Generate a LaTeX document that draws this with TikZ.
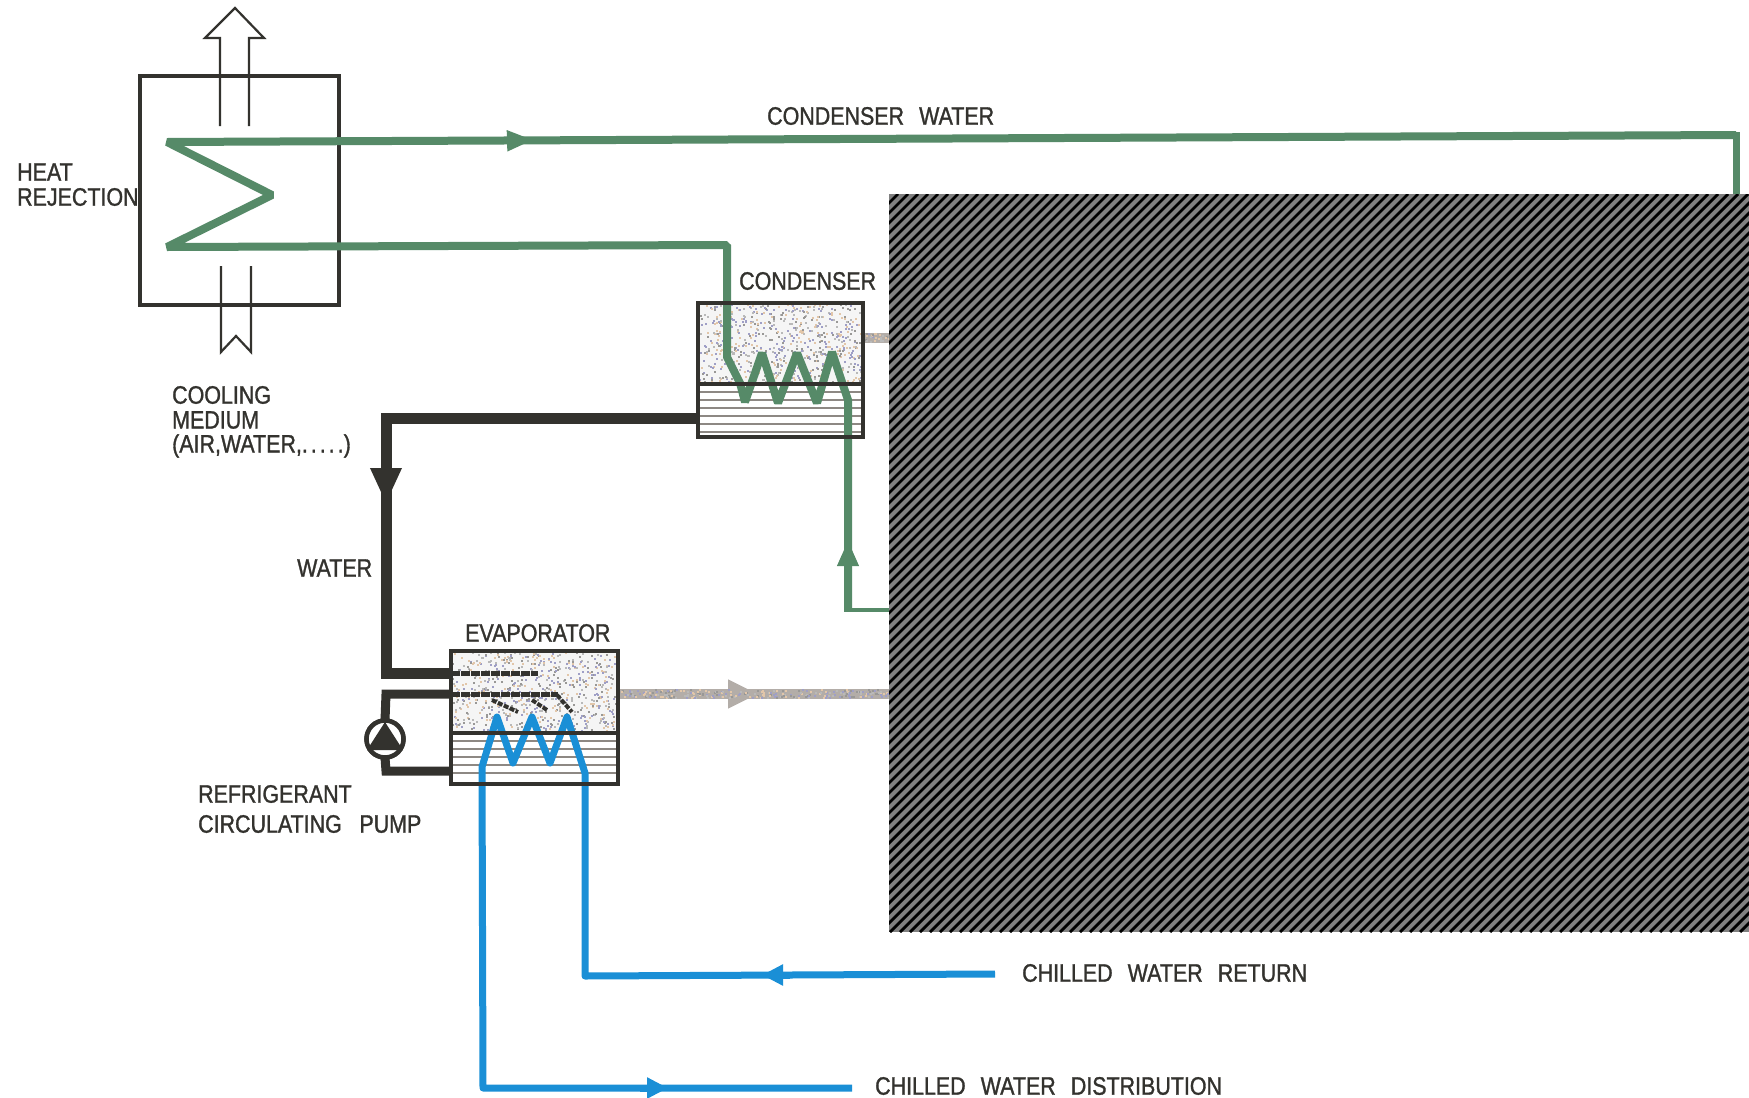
\documentclass[tikz,border=0pt]{standalone}
\usepackage{fontspec}
\setmainfont[FakeStretch=0.85,FakeBold=1.2]{Liberation Sans}
\usetikzlibrary{arrows.meta}
\definecolor{pipegreen}{HTML}{568A68}
\definecolor{pipeblue}{HTML}{1A8FD6}
\definecolor{ink}{HTML}{33322E}
\definecolor{noisegray}{HTML}{B3ADA8}
\definecolor{hatchgray}{HTML}{808080}
% #1 x, #2 y, #3 width, #4 height, #5 number of specks
\newcommand{\stipple}[5]{%
  \foreach \k in {1,...,#5}{%
    \pgfmathsetmacro{\sx}{#1+rnd*(#3)}%
    \pgfmathsetmacro{\sy}{#2+rnd*(#4)}%
    \pgfmathtruncatemacro{\sc}{int(rnd*4)}%
    \ifcase\sc\def\scol{gray!55}\or\def\scol{brown!45}\or\def\scol{ink!50}\else\def\scol{blue!25!gray!60}\fi
    \fill[\scol] (\sx,\sy) rectangle ++(2,2);
  }}
\tikzset{
  x=1pt,y=-1pt,
  lbl/.style={inner sep=0pt,anchor=west,font=\fontsize{25.2}{25.2}\selectfont,text=ink},
  vessel/.style={draw=ink,line width=4.5pt,inner sep=0pt,outer sep=0pt,anchor=north west},
  frame/.style={draw=ink,line width=3.5pt,inner sep=0pt,outer sep=0pt,anchor=north west},
  greenpipe/.style={draw=pipegreen,line width=8pt,line join=bevel},
  bluepipe/.style={draw=pipeblue,line width=7pt,line join=round},
  blackpipe/.style={draw=ink,line width=11pt},
  graypipe/.style={draw=noisegray,line width=10pt},
  thinarrow/.style={draw=ink,line width=2.2pt,line join=miter},
  tipgreen/.style={-{Triangle[length=26pt,width=20pt]}},
  tipblue/.style={-{Triangle[length=21pt,width=20pt]}},
  tipblack/.style={-{Triangle[length=36pt,width=29pt]}},
  tipgray/.style={-{Triangle[length=30pt,width=27pt]}},
  grainline/.style={draw=ink,line width=5pt,dash pattern=on 9pt off 1pt},
}
\begin{document}
\begin{tikzpicture}
\useasboundingbox (0,0) rectangle (1749,1098);
\fill[white] (0,0) rectangle (1749,1098);

% vessels' grainy fill
\fill[black!4] (698,303) rectangle (863,384);
\fill[black!4] (451,651) rectangle (618,733);
\pgfmathsetseed{4217}
\stipple{698}{303}{163}{80}{700}
\stipple{451}{651}{165}{80}{700}
% stripes of the lower parts
\foreach \yy in {392,400,408,416,424,432}{\draw[noisegray!70!ink,line width=2.8pt] (698,\yy) -- (863,\yy);}
\foreach \yy in {741,749,757,765,773}{\draw[noisegray!70!ink,line width=2.8pt] (451,\yy) -- (618,\yy);}

% nodes
\node[frame,minimum width=199pt,minimum height=229pt] (hx) at (140,76) {};
\node[vessel,minimum width=165pt,minimum height=134pt] (cond) at (698,303) {};
\node[vessel,minimum width=167pt,minimum height=133pt] (evap) at (451,651) {};
\node[draw=ink,line width=4.5pt,circle,minimum size=37pt,inner sep=0pt,outer sep=0pt] (pump) at (385,739) {};

% coordinates
\coordinate (topL) at (167,142);
\coordinate (apex) at (272,195);
\coordinate (botL) at (167,247);
\coordinate (cwTip) at (533,140);
\coordinate (cwEnd) at (1736,135);
\coordinate (cwDown) at (1736,194);
\coordinate (botCorner) at (727,245);
\coordinate (coilA) at (727,357);
\coordinate (coilB) at (848,400);
\coordinate (retCorner) at (848,610);
\coordinate (retEnd) at (889,610);
\coordinate (retTip) at (848,540);
\coordinate (w1) at (698,418);
\coordinate (w2) at (386,418);
\coordinate (wTip) at (386,504);
\coordinate (w3) at (386,673);
\coordinate (w4) at (451,673);
\coordinate (w5) at (538,673);
\coordinate (r1) at (558,694);
\coordinate (r0) at (451,694);
\coordinate (r2) at (386,694);
\coordinate (r3) at (386,771);
\coordinate (r4) at (451,771);
\coordinate (g1) at (863,338);
\coordinate (g2) at (889,338);
\coordinate (g3) at (618,694);
\coordinate (g4) at (889,694);
\coordinate (gTip) at (758,694);
\coordinate (cr0) at (995,974);
\coordinate (crTip) at (762,975);
\coordinate (cr1) at (585,976);
\coordinate (cr2) at (585,773);
\coordinate (cd0) at (482,767);
\coordinate (cd1) at (483,1088);
\coordinate (cdTip) at (668,1088);
\coordinate (cd2) at (852,1088);

% heat-rejection coil and condenser water
\draw[greenpipe,line width=7pt,line join=miter] (1732,135) -- (cwEnd) -- (cwDown);
\draw[greenpipe] (cwEnd) -- (topL) -- (apex) -- (botL) -- (botCorner) -- (coilA)
  -- (740,383) -- (745,402) -- (762,353) -- (778,403) -- (797,353) -- (817,403) -- (832,352) -- (coilB) -- (retCorner);
\draw[greenpipe,tipgreen,line width=5pt] (500,141) -- (cwTip);
\draw[greenpipe,tipgreen] (retCorner) -- (retTip);
\draw[draw=pipegreen,line width=4.5pt] (844,610) -- (retEnd);

% chilled water
\draw[bluepipe] (cd2) -- (cd1) -- (cd0) -- (497,717) -- (513,763) -- (532,717) -- (550,763) -- (567,717) -- (cr2) -- (cr1) -- (cr0);
\draw[bluepipe,tipblue] (790,975) -- (crTip);
\draw[bluepipe,tipblue] (640,1088) -- (cdTip);

% gray lines
\draw[graypipe] (g1) -- (g2);
\draw[graypipe] (g3) -- (g4);
\draw[graypipe,tipgray] (720,694) -- (gTip);
\stipple{620}{689}{268}{8}{260}
\stipple{865}{333}{23}{8}{24}

% water and refrigerant
\draw[blackpipe] (w1) -- (w2) -- (w3) -- (w4);
\draw[blackpipe,tipblack] (w2) -- (wTip);
\draw[draw=ink,line width=9pt] (r0) -- (r2) -- (pump.north);
\draw[draw=ink,line width=9pt] (pump.south) -- (r3) -- (r4);
\draw[grainline] (w4) -- (w5);
\draw[grainline] (r0) -- (r1);
\draw[draw=ink,line width=4pt,dash pattern=on 5pt off 1.5pt] (492,700) -- (518,712);
\draw[draw=ink,line width=4pt,dash pattern=on 5pt off 1.5pt] (532,700) -- (547,710);
\draw[draw=ink,line width=4pt,dash pattern=on 5pt off 1.5pt] (557,695) -- (572,712);

% pump
\filldraw[draw=ink,line width=4.5pt,fill=white] (pump) circle (18.5);
\fill[ink] (385,722) -- (403,750) -- (367,750) -- cycle;

% redraw frames over fills
\draw[ink,line width=4.5pt] (cond.north west) rectangle (cond.south east);
\draw[ink,line width=4.5pt] (evap.north west) rectangle (evap.south east);
\draw[ink,line width=4.5pt] (cond.west |- 0,384) -- (cond.east |- 0,384);
\draw[ink,line width=4.5pt] (evap.west |- 0,733) -- (evap.east |- 0,733);
\draw[pipegreen,line width=7pt] (727,305) -- (coilA);

% hollow arrows
\draw[thinarrow] (220,126) -- (220,38) -- (205,38) -- (235,8) -- (264,38) -- (249,38) -- (249,126);
\draw[thinarrow] (221,266) -- (221,352) -- (236,336) -- (251,352) -- (251,266);

% hatched block
\begin{scope}
\clip (889,194) rectangle (1749,932);
\fill[hatchgray] (889,194) rectangle (1749,932);
\foreach \d in {150,160,...,1750}{\draw[black,line width=2.8pt] (\d,932) -- (\d+738,194);}
\end{scope}

% labels
\node[lbl] (t1) at (767,116) {CONDENSER\hspace{0.6em}WATER};
\node[lbl] (t2) at (17,172) {HEAT};
\node[lbl] (t3) at (17,197) {REJECTION};
\node[lbl] (t4) at (739,281) {CONDENSER};
\node[lbl] (t5) at (172,395) {COOLING};
\node[lbl] (t6) at (172,420) {MEDIUM};
\node[lbl] (t7) at (172,446) {(AIR,WATER,.\kern3pt.\kern3pt.\kern3pt.\kern3pt.)};
\node[lbl] (t8) at (297,568) {WATER};
\node[lbl] (t9) at (465,633) {EVAPORATOR};
\node[lbl] (t10) at (198,794) {REFRIGERANT};
\node[lbl] (t11) at (198,824) {CIRCULATING\hspace{0.7em}PUMP};
\node[lbl] (t12) at (1022,973) {CHILLED\hspace{0.6em}WATER\hspace{0.6em}RETURN};
\node[lbl] (t13) at (875,1086) {CHILLED\hspace{0.6em}WATER\hspace{0.6em}DISTRIBUTION};
\end{tikzpicture}
\end{document}
